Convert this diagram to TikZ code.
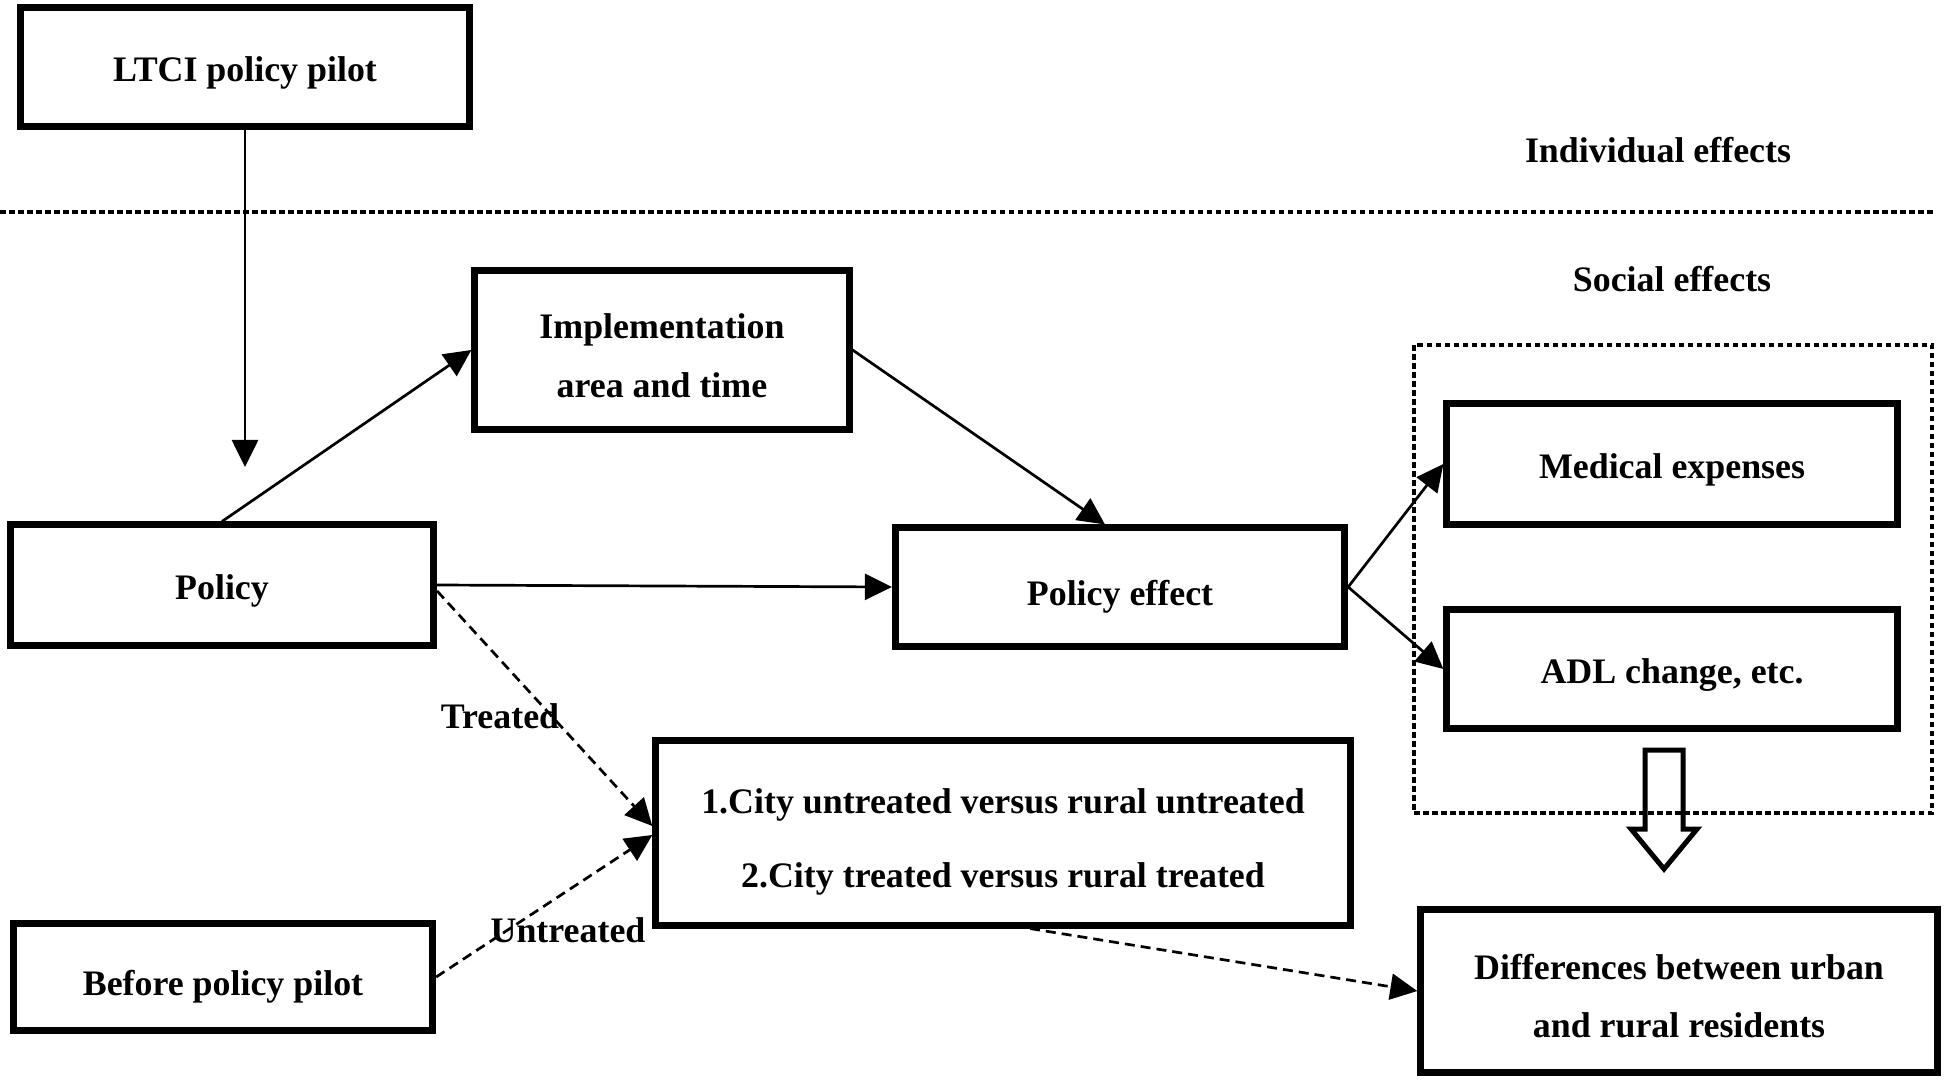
\documentclass[tikz,border=0pt]{standalone}
\usepackage{fontspec}
\setmainfont{Liberation Serif}
\usetikzlibrary{arrows.meta}
\begin{document}
\begin{tikzpicture}[x=0.01cm,y=-0.01cm,
  box/.style={draw, line width=0.07cm, font=\bfseries\fontsize{10.2}{12}\selectfont, align=center, inner sep=0pt, tshift=0.36cm},
  tshift/.style={execute at begin node={\rule{0pt}{#1}}},
  conn/.style={line width=0.027cm, -{Triangle[length=0.27cm,width=0.26cm]}},
  dconn/.style={conn, dash pattern=on 0.1cm off 0.06cm},
  lbl/.style={font=\bfseries\fontsize{10.2}{12}\selectfont, inner sep=0pt},
  dots/.style={line width=0.045cm, dash pattern=on 0.055cm off 0.035cm}]
\useasboundingbox (0,0) rectangle (1946,1082);
% boxes
\node[box, minimum width=4.49cm, minimum height=1.18cm] (ltci) at (245,67) {LTCI policy pilot};
\node[box, tshift=0pt, minimum width=3.74cm, minimum height=1.58cm] (impl) at (662,350) {\rule{0pt}{0.37cm}Implementation\\[4.8pt]area and time};
\node[box, minimum width=4.23cm, minimum height=1.20cm] (policy) at (222,585) {Policy};
\node[box, tshift=0.44cm, minimum width=4.49cm, minimum height=1.18cm] (peff) at (1120,587) {Policy effect};
\node[box, minimum width=4.50cm, minimum height=1.20cm] (med) at (1672,464) {Medical expenses};
\node[box, minimum width=4.50cm, minimum height=1.19cm] (adl) at (1672,669) {ADL change, etc.};
\node[box, tshift=0pt, minimum width=6.94cm, minimum height=1.84cm] (comp) at (1003,833) {\rule{0pt}{0.43cm}1.City untreated versus rural untreated\\[9pt]2.City treated versus rural treated};
\node[box, tshift=0.44cm, minimum width=4.19cm, minimum height=1.07cm] (before) at (223,977) {Before policy pilot};
\node[box, tshift=0pt, minimum width=5.16cm, minimum height=1.63cm] (diff) at (1679,991) {\rule{0pt}{0.35cm}Differences between urban\\[4.5pt]and rural residents};
% section labels
\node[lbl] (indiv) at (1658,150) {Individual effects};
\node[lbl] (social) at (1672,279) {Social effects};
\node[lbl] (treated) at (500,716) {Treated};
\node[lbl] (untreated) at (568,930) {Untreated};
% dotted divider and group
\coordinate (divL) at (0,212);
\coordinate (divR) at (1935,212);
\draw[dots] (divL) -- (divR);
\coordinate (grpA) at (1414,345);
\coordinate (grpB) at (1932,813);
\draw[dots] (grpA) rectangle (grpB);
% connectors
\coordinate (tipA) at (245,467);
\draw[conn] (ltci.south) -- (tipA);
\draw[conn] (policy.north) -- (impl.west);
\draw[conn] (impl.east) -- ([xshift=-0.15cm]peff.north);
\draw[conn] (policy.east) -- (peff.west);
\draw[conn] (peff.east) -- (med.west);
\draw[conn] (peff.east) -- (adl.west);
\draw[dconn] ([yshift=-0.06cm]policy.east) -- ([yshift=0.07cm]comp.west);
\draw[dconn] (before.east) -- ([yshift=-0.02cm]comp.west);
\draw[dconn] ([xshift=0.27cm]comp.south) -- (diff.west);
% hollow block arrow
\draw[line width=0.05cm, line join=miter] (1645,750) -- (1683,750) -- (1683,829) -- (1697,829) -- (1664,869) -- (1631,829) -- (1645,829) -- cycle;
\end{tikzpicture}
\end{document}
